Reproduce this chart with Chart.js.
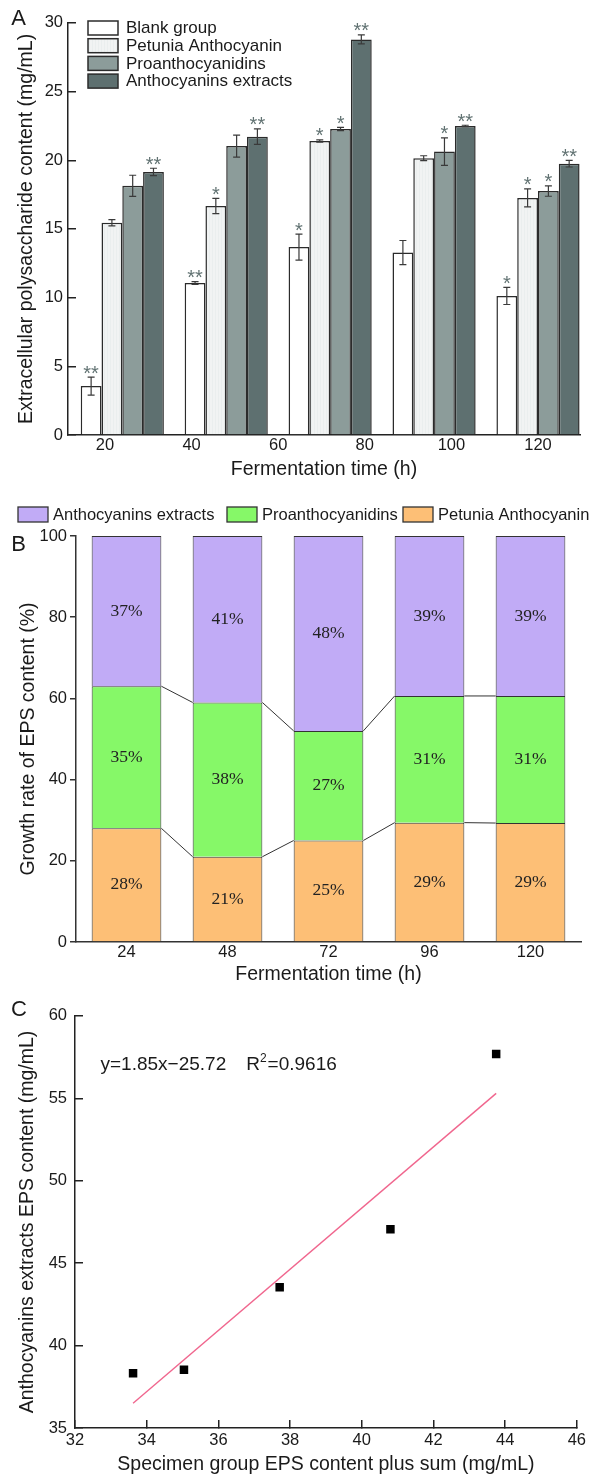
<!DOCTYPE html>
<html>
<head>
<meta charset="utf-8">
<title>Extracellular polysaccharide content</title>
<script src="https://cdn.jsdelivr.net/npm/chart.js@4.4.1/dist/chart.umd.min.js"></script>
<style>
  html, body { margin: 0; padding: 0; background: #fff; }
  #page { position: relative; width: 597px; height: 1475px; overflow: hidden; }
  #page canvas { position: absolute; left: 0; }
</style>
</head>
<body>
<div id="page">
  <canvas id="chartA" width="597" height="490" style="top:0px"></canvas>
  <canvas id="chartB" width="597" height="500" style="top:490px"></canvas>
  <canvas id="chartC" width="597" height="485" style="top:990px"></canvas>
</div>
<script>
// A - EPS content of each group (mg/mL), mean and error, with significance marks
var timePoints = [24, 48, 72, 96, 120];
var timeTicks = [20, 40, 60, 80, 100, 120];
var groupNames = ['Blank group', 'Petunia Anthocyanin', 'Proanthocyanidins', 'Anthocyanins extracts'];
var blankGroup = [3.56, 11.07, 13.68, 13.28, 10.12];
var petuniaAnth = [15.45, 16.67, 21.4, 20.15, 17.26];
var proanthocyanidins = [18.14, 21.03, 22.28, 20.63, 17.76];
var anthExtracts = [19.15, 21.72, 28.8, 22.5, 19.75];
var blankErr = [0.65, 0.1, 0.95, 0.88, 0.62];
var petuniaErr = [0.23, 0.55, 0.08, 0.18, 0.66];
var proErr = [0.77, 0.8, 0.12, 1.0, 0.38];
var anthErr = [0.27, 0.57, 0.33, 0.05, 0.24];
var blankSig = ['**', '**', '*', '', '*'];
var petuniaSig = ['', '*', '*', '', '*'];
var proSig = ['', '', '*', '*', '*'];
var anthSig = ['**', '**', '**', '**', '**'];

// B - share of EPS growth rate (%) per sampling time
var shareTimes = ['24', '48', '72', '96', '120'];
var sharePetunia = [28, 21, 25, 29.4, 29.3];
var shareProanth = [35, 38, 27, 31.2, 31.3];
var shareExtract = [37, 41, 48, 39.4, 39.4];

// C - extracts EPS vs summed specimen EPS (mg/mL) and the fitted line
var sumEps = [33.62, 35.04, 37.71, 40.80, 43.75];
var extractEps = [38.32, 38.54, 43.54, 47.06, 57.69];
var fitX = [33.62, 43.75];
var fitY = [36.5, 55.3];

var fontName = "'Liberation Sans', Arial, sans-serif";
var inkColor = '#1a1a1a';
Chart.defaults.font.family = fontName;
Chart.defaults.color = inkColor;

function pairs(xs, ys) {
  return xs.map(function(x, i) { return {x: x, y: ys[i]}; });
}

function axisTitle(text, pad) {
  return {display: true, text: text, color: inkColor, font: {size: 19.5, lineHeight: 1}, padding: pad};
}

// faint vertical stripes used for the petunia bars
function stripeFill() {
  var c = document.createElement('canvas');
  c.width = 3; c.height = 4;
  var g = c.getContext('2d');
  g.fillStyle = '#f1f3f3';
  g.fillRect(0, 0, 3, 4);
  g.fillStyle = '#eaeeee';
  g.fillRect(2, 0, 1, 4);
  return g.createPattern(c, 'repeat');
}

// big panel letter in the top left corner
function panelLetter(letter, x, y) {
  return {
    id: 'letter' + letter,
    afterDraw: function(chart) {
      var ctx = chart.ctx;
      ctx.save();
      ctx.fillStyle = inkColor;
      ctx.font = '22px ' + fontName;
      ctx.textAlign = 'center';
      ctx.textBaseline = 'middle';
      ctx.fillText(letter, x, y);
      ctx.restore();
    }
  };
}

// error bars and stars on top of each bar
var errorBars = {
  id: 'errorBars',
  afterDatasetsDraw: function(chart) {
    var ctx = chart.ctx, yScale = chart.scales.y;
    chart.data.datasets.forEach(function(ds, i) {
      var meta = chart.getDatasetMeta(i);
      meta.data.forEach(function(bar, j) {
        var v = ds.data[j].y, e = ds.errors[j];
        var top = yScale.getPixelForValue(v + e);
        var bot = yScale.getPixelForValue(v - e);
        ctx.save();
        ctx.strokeStyle = '#3a3a3a';
        ctx.lineWidth = 1.2;
        ctx.beginPath();
        ctx.moveTo(bar.x, top); ctx.lineTo(bar.x, bot);
        ctx.moveTo(bar.x - 3.5, top); ctx.lineTo(bar.x + 3.5, top);
        ctx.moveTo(bar.x - 3.5, bot); ctx.lineTo(bar.x + 3.5, bot);
        ctx.stroke();
        if (ds.marks[j]) {
          ctx.fillStyle = '#617272';
          ctx.font = '20px ' + fontName;
          ctx.textAlign = 'center';
          ctx.textBaseline = 'alphabetic';
          ctx.fillText(ds.marks[j], bar.x, top + 2.5);
        }
        ctx.restore();
      });
    });
  }
};

var legendA = {
  id: 'legendA',
  afterDraw: function(chart) {
    var ctx = chart.ctx;
    ctx.save();
    chart.data.datasets.forEach(function(ds, i) {
      var y = 21 + i * 17.7;
      ctx.fillStyle = ds.backgroundColor;
      ctx.fillRect(88, y, 30, 14);
      ctx.strokeStyle = '#2b2b2b';
      ctx.lineWidth = 1.5;
      ctx.strokeRect(88, y, 30, 14);
      ctx.fillStyle = inkColor;
      ctx.font = '17px ' + fontName;
      ctx.textAlign = 'left';
      ctx.textBaseline = 'middle';
      ctx.fillText(ds.label, 126, y + 7.5);
    });
    ctx.restore();
  }
};

var chartA = new Chart(document.getElementById('chartA'), {
  type: 'bar',
  data: {
    datasets: [
      {label: groupNames[0], data: pairs(timePoints, blankGroup), backgroundColor: '#ffffff', errors: blankErr, marks: blankSig},
      {label: groupNames[1], data: pairs(timePoints, petuniaAnth), backgroundColor: stripeFill(), errors: petuniaErr, marks: petuniaSig},
      {label: groupNames[2], data: pairs(timePoints, proanthocyanidins), backgroundColor: '#8c9c9a', errors: proErr, marks: proSig},
      {label: groupNames[3], data: pairs(timePoints, anthExtracts), backgroundColor: '#5e7070', errors: anthErr, marks: anthSig}
    ]
  },
  options: {
    responsive: false,
    animation: false,
    devicePixelRatio: 1,
    events: [],
    layout: {padding: {top: 14, right: 17, left: 0, bottom: 0}},
    datasets: {bar: {borderColor: '#2b2b2b', borderWidth: 1.5, categoryPercentage: 0.96, barPercentage: 1}},
    plugins: {legend: {display: false}, tooltip: {enabled: false}},
    scales: {
      x: {
        type: 'linear', min: 11.46, max: 129.7, offset: false,
        grid: {display: false, drawTicks: false},
        border: {color: '#222', width: 1.5},
        afterBuildTicks: function(s) { s.ticks = timeTicks.map(function(v) { return {value: v}; }); },
        ticks: {padding: 1, font: {size: 16.5}, color: inkColor},
        title: axisTitle('Fermentation time (h)', {top: 0, bottom: 11}),
        afterFit: function(s) { s.height = 55; }
      },
      y: {
        min: 0, max: 30,
        ticks: {stepSize: 5, padding: 13, font: {size: 16.5}, color: inkColor},
        grid: {drawOnChartArea: false, tickLength: -8, color: '#222', lineWidth: 1.5},
        border: {color: '#222', width: 1.5},
        title: axisTitle('Extracellular polysaccharide content (mg/mL)', {top: 17, bottom: 0}),
        afterFit: function(s) { s.width = 68; }
      }
    }
  },
  plugins: [errorBars, legendA, panelLetter('A', 18.5, 18.5)]
});

// B: lines joining the segment tops, % labels and the legend row
var shareDecor = {
  id: 'shareDecor',
  afterDatasetsDraw: function(chart) {
    var ctx = chart.ctx;
    ctx.save();
    // joining lines for the two lower segments
    ctx.strokeStyle = '#333';
    ctx.lineWidth = 1;
    [0, 1].forEach(function(i) {
      var bars = chart.getDatasetMeta(i).data;
      ctx.beginPath();
      for (var j = 0; j < bars.length - 1; j++) {
        ctx.moveTo(bars[j].x + bars[j].width / 2, bars[j].y);
        ctx.lineTo(bars[j + 1].x - bars[j + 1].width / 2, bars[j + 1].y);
      }
      ctx.stroke();
    });
    // percentages in the middle of every segment
    ctx.fillStyle = '#222';
    ctx.font = "17.5px 'Liberation Serif', 'Times New Roman', serif";
    ctx.textAlign = 'center';
    ctx.textBaseline = 'middle';
    chart.data.datasets.forEach(function(ds, i) {
      chart.getDatasetMeta(i).data.forEach(function(bar, j) {
        ctx.fillText(Math.round(ds.data[j]) + '%', bar.x, (bar.y + bar.base) / 2);
      });
    });
    ctx.restore();
  },
  afterDraw: function(chart) {
    var ctx = chart.ctx;
    var order = [2, 1, 0];
    var boxX = [18, 227, 403];
    ctx.save();
    order.forEach(function(i, k) {
      var ds = chart.data.datasets[i];
      ctx.fillStyle = ds.backgroundColor;
      ctx.fillRect(boxX[k], 17, 30, 15);
      ctx.strokeStyle = '#333';
      ctx.lineWidth = 1.3;
      ctx.strokeRect(boxX[k], 17, 30, 15);
      ctx.fillStyle = inkColor;
      ctx.font = '16.5px ' + fontName;
      ctx.textAlign = 'left';
      ctx.textBaseline = 'middle';
      ctx.fillText(ds.label, boxX[k] + 35, 25);
    });
    ctx.restore();
  }
};

var chartB = new Chart(document.getElementById('chartB'), {
  type: 'bar',
  data: {
    labels: shareTimes,
    datasets: [
      {label: 'Petunia Anthocyanin', data: sharePetunia, backgroundColor: '#fdbf76'},
      {label: 'Proanthocyanidins', data: shareProanth, backgroundColor: '#86f868'},
      {label: 'Anthocyanins extracts', data: shareExtract, backgroundColor: '#c1abf6'}
    ]
  },
  options: {
    responsive: false,
    animation: false,
    devicePixelRatio: 1,
    events: [],
    layout: {padding: {top: 46, right: 16, left: 0, bottom: 0}},
    datasets: {bar: {borderColor: '#333', borderWidth: 1, categoryPercentage: 1, barPercentage: 0.69}},
    plugins: {legend: {display: false}, tooltip: {enabled: false}},
    scales: {
      x: {
        stacked: true,
        grid: {display: false, drawTicks: false},
        border: {color: '#333', width: 1.5},
        ticks: {padding: 1, font: {size: 16.5}, color: inkColor},
        title: axisTitle('Fermentation time (h)', {top: 0, bottom: 6}),
        afterFit: function(s) { s.height = 48; }
      },
      y: {
        stacked: true, min: 0, max: 100,
        ticks: {stepSize: 20, padding: 3, font: {size: 16.5}, color: inkColor},
        grid: {drawOnChartArea: false, tickLength: 6, color: '#333', lineWidth: 1.5},
        border: {color: '#333', width: 1.5},
        title: axisTitle('Growth rate of EPS content (%)', {top: 19, bottom: 0}),
        afterFit: function(s) { s.width = 76; }
      }
    }
  },
  plugins: [shareDecor, panelLetter('B', 18.5, 54.5)]
});

// C: regression equation written in the upper left of the plot
var equation = {
  id: 'equation',
  afterDraw: function(chart) {
    var ctx = chart.ctx, area = chart.chartArea;
    var x = area.left + 25.5, y = area.top + 49;
    ctx.save();
    ctx.fillStyle = inkColor;
    ctx.textAlign = 'left';
    ctx.textBaseline = 'middle';
    ctx.font = '19px ' + fontName;
    var left = 'y=1.85x\u221225.72';
    ctx.fillText(left, x, y);
    x += ctx.measureText(left).width + 20;
    ctx.fillText('R', x, y);
    x += ctx.measureText('R').width;
    ctx.font = '12px ' + fontName;
    ctx.fillText('2', x, y - 6);
    x += ctx.measureText('2').width + 1;
    ctx.font = '19px ' + fontName;
    ctx.fillText('=0.9616', x, y);
    ctx.restore();
  }
};

var chartC = new Chart(document.getElementById('chartC'), {
  type: 'scatter',
  data: {
    datasets: [
      {label: 'EPS', data: pairs(sumEps, extractEps), pointStyle: 'rect', pointRadius: 6, backgroundColor: '#000', borderWidth: 0},
      {type: 'line', label: 'Fit', data: pairs(fitX, fitY), borderColor: '#f0668e', borderWidth: 1.4, pointRadius: 0, fill: false}
    ]
  },
  options: {
    responsive: false,
    animation: false,
    devicePixelRatio: 1,
    events: [],
    layout: {padding: {top: 16, right: 14, left: 0, bottom: 0}},
    plugins: {legend: {display: false}, tooltip: {enabled: false}},
    scales: {
      x: {
        type: 'linear', min: 32, max: 46,
        ticks: {stepSize: 2, padding: 11, font: {size: 16.5}, color: inkColor},
        grid: {drawOnChartArea: false, tickLength: -8, color: '#222', lineWidth: 1.5},
        border: {color: '#222', width: 1.5},
        title: axisTitle('Specimen group EPS content plus sum (mg/mL)', {top: 0, bottom: 0.5}),
        afterFit: function(s) { s.height = 47; }
      },
      y: {
        min: 35, max: 60,
        ticks: {stepSize: 5, padding: 16, font: {size: 16.5}, color: inkColor},
        grid: {drawOnChartArea: false, tickLength: -8, color: '#222', lineWidth: 1.5},
        border: {color: '#222', width: 1.5},
        title: axisTitle('Anthocyanins extracts EPS content (mg/mL)', {top: 18, bottom: 0}),
        afterFit: function(s) { s.width = 75; }
      }
    }
  },
  plugins: [equation, panelLetter('C', 19, 20)]
});
</script>
</body>
</html>
